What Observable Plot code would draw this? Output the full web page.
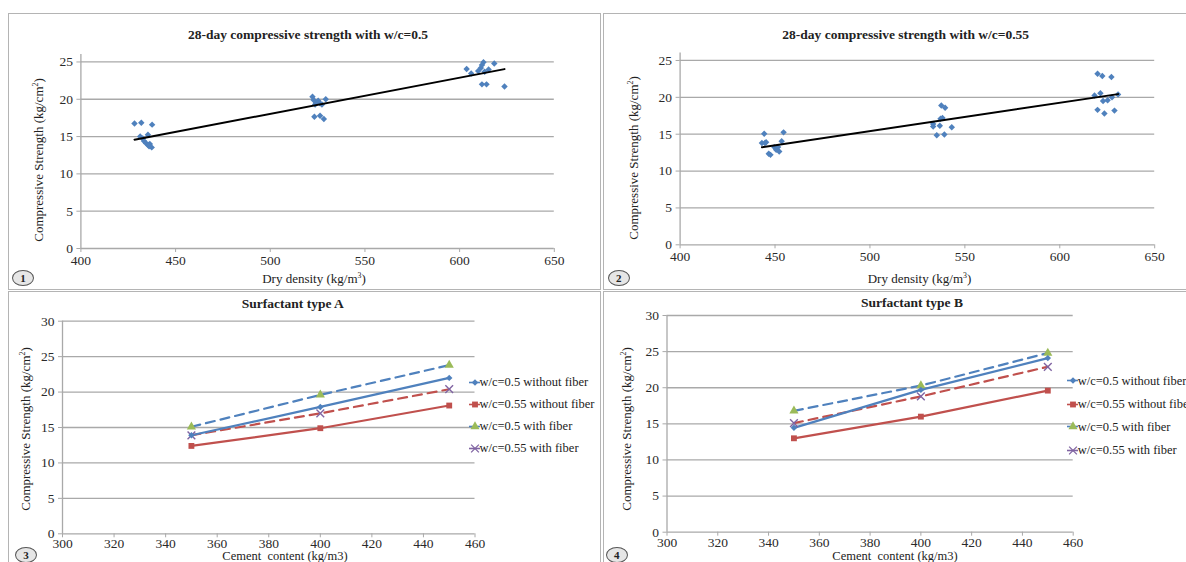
<!DOCTYPE html>
<html><head><meta charset="utf-8">
<script src="https://cdn.jsdelivr.net/npm/d3@7"></script>
<script src="https://cdn.jsdelivr.net/npm/@observablehq/plot@0.6"></script>
<style>
body{margin:0;background:#fff;}
#root{position:relative;width:1186px;height:562px;overflow:hidden;background:#fff;color:#222;}
#root, #root div, #root span, #root svg, #root svg text{font-family:"Liberation Serif","DejaVu Serif",serif !important;}
.panel{position:absolute;border:1px solid #b4b4b4;box-sizing:border-box;}
.abs{position:absolute;white-space:nowrap;line-height:1;}
.title{font-weight:bold;font-size:13.5px;transform:translate(-50%,-50%);}
.ylab{font-size:13px;transform:translate(-50%,-50%) rotate(-90deg);}
.xlab{font-size:13px;transform:translate(-50%,-50%);}
.xlab.small{font-size:12.5px;}
.num{width:20px;height:14px;border:1px solid #555;border-radius:50%;font-weight:bold;font-size:11px;text-align:center;line-height:14px;transform:translate(-50%,-50%);background:#e6e6e6;}
.plotbox{position:absolute;}
.plotbox svg{overflow:visible;}
.leg{position:absolute;font-size:12.5px;white-space:nowrap;transform:translateY(-50%);display:flex;align-items:center;}
sup{font-size:0.6em;line-height:0;vertical-align:0.6em;}
</style>
</head><body>
<div id="root"></div>
<script>
// ---------- data ----------
const densityTicks = [400, 450, 500, 550, 600, 650];
const scatterYTicks = [0, 5, 10, 15, 20, 25];
const cementTicks = [300, 320, 340, 360, 380, 400, 420, 440, 460];
const lineYTicks = [0, 5, 10, 15, 20, 25, 30];

const densityWC05 = [428.3, 431.9, 437.6, 431.3, 435.4, 433.3, 434.4, 435.4, 436.4, 437.4, 436.0, 432.7,
  522.3, 522.9, 524.3, 526.3, 529.3, 527.3, 523.3, 526.3, 528.3, 525.3, 523.7,
  603.7, 606.1, 609.8, 611.2, 612.6, 611.8, 615.3, 618.3, 611.8, 614.2, 623.7, 613.2];
const strengthWC05 = [16.75, 16.85, 16.6, 15.0, 15.25, 14.4, 14.1, 13.9, 14.0, 13.55, 13.7, 14.75,
  20.35, 19.9, 19.55, 19.45, 20.0, 19.3, 17.65, 17.8, 17.35, 19.8, 19.3,
  24.05, 23.45, 23.8, 24.2, 24.95, 24.6, 24.0, 24.8, 22.0, 22.0, 21.7, 23.7];

const densityWC055 = [443.1, 444.3, 445.3, 446.7, 447.6, 449.6, 451.6, 452.2, 450.6, 453.5, 454.5, 444.7,
  533.3, 533.3, 537.2, 538.2, 537.6, 539.6, 536.8, 535.2, 539.2, 543.1,
  619.9, 622.4, 627.2, 618.3, 621.4, 622.8, 625.2, 619.9, 623.5, 628.8, 630.7, 627.5];
const strengthWC055 = [13.8, 15.05, 13.9, 12.35, 12.2, 13.25, 13.25, 12.65, 12.9, 14.05, 15.25, 13.8,
  16.4, 16.05, 17.1, 17.2, 18.9, 18.6, 16.15, 14.85, 14.95, 15.95,
  23.2, 22.9, 22.75, 20.25, 20.55, 19.5, 19.6, 18.3, 17.8, 18.2, 20.4, 20.0];

const cement = [350, 400, 450];
const seriesNames = ["w/c=0.5 without fiber", "w/c=0.55 without fiber", "w/c=0.5 with fiber", "w/c=0.55 with fiber"];
const typeA = [
  [13.9, 17.9, 22.0],
  [12.4, 14.9, 18.1],
  [15.1, 19.6, 23.8],
  [13.9, 17.0, 20.4]
];
const typeB = [
  [14.45, 19.7, 24.1],
  [13.0, 16.0, 19.6],
  [16.8, 20.3, 24.8],
  [15.1, 18.8, 22.9]
];

// ---------- styles ----------
const blue = "#4f81bd", red = "#c0504d", green = "#9bbb59", purple = "#8064a2";
const gridColor = "#a9a9a9", textColor = "#2a2a2a";
const seriesStyle = [
  {line: blue, dash: null, symbol: "diamond2", mark: blue, r: 2.9, stroked: false},
  {line: red, dash: null, symbol: "square", mark: red, r: 3.3, stroked: false},
  {line: blue, dash: "9,6", symbol: "triangle", mark: green, r: 3.4, stroked: false},
  {line: red, dash: "9,6", symbol: "times", mark: purple, r: 3.6, stroked: true}
];
const plotStyle = {fontFamily: "Liberation Serif, DejaVu Serif, serif", fontSize: "13.5px", background: "transparent", color: textColor};

const root = document.getElementById("root");
function el(cls, x, y, html, extra) {
  const d = document.createElement("div");
  d.className = cls;
  d.style.left = x + "px"; d.style.top = y + "px";
  if (extra) Object.assign(d.style, extra);
  d.innerHTML = html;
  root.appendChild(d);
  return d;
}
function box(x, y, w, h) { el("panel", x, y, "", {width: w + "px", height: h + "px"}); }
function place(svg, x, y) {
  const d = el("plotbox", x, y, "");
  d.appendChild(svg);
}

function scatterChart(xs, ys, m) {
  const data = xs.map((x, i) => ({x, y: ys[i]}));
  return Plot.plot({
    width: m.w, height: m.h, marginLeft: m.l, marginRight: m.r, marginTop: m.t, marginBottom: m.b,
    x: {domain: [densityTicks[0], densityTicks[densityTicks.length - 1]]},
    y: {domain: [0, 26]},
    style: plotStyle,
    marks: [
      Plot.ruleY(scatterYTicks, {stroke: gridColor, strokeWidth: 1.3}),
      Plot.ruleX([densityTicks[0]], {stroke: gridColor, strokeWidth: 1.3}),
      Plot.axisY({ticks: scatterYTicks, tickSize: 4, tickPadding: 4, stroke: gridColor, fill: textColor, label: null}),
      Plot.axisX({ticks: densityTicks, tickSize: 4, tickPadding: 3, stroke: gridColor, fill: textColor, label: null}),
      Plot.dot(data, {x: "x", y: "y", symbol: "diamond2", r: 2.9, fill: blue}),
      Plot.linearRegressionY(data, {x: "x", y: "y", stroke: "#000", strokeWidth: 2, ci: 0})
    ]
  });
}

function lineChart(values, m) {
  const marks = [
    Plot.ruleY(lineYTicks, {stroke: gridColor, strokeWidth: 1.3}),
    Plot.ruleX([cementTicks[0]], {stroke: gridColor, strokeWidth: 1.3}),
    Plot.axisY({ticks: lineYTicks, tickSize: 4, tickPadding: 4, stroke: gridColor, fill: textColor, label: null}),
    Plot.axisX({ticks: cementTicks, tickSize: 4, tickPadding: 1, stroke: gridColor, fill: textColor, label: null})
  ];
  const order = [2, 3, 0, 1];
  order.forEach(k => {
    const s = seriesStyle[k];
    const rows = cement.map((c, i) => ({x: c, y: values[k][i]}));
    marks.push(Plot.line(rows, {x: "x", y: "y", stroke: s.line, strokeWidth: 2.2, strokeDasharray: s.dash || undefined}));
  });
  order.forEach(k => {
    const s = seriesStyle[k];
    const rows = cement.map((c, i) => ({x: c, y: values[k][i]}));
    marks.push(s.stroked
      ? Plot.dot(rows, {x: "x", y: "y", symbol: s.symbol, r: s.r, stroke: s.mark, strokeWidth: 1.4, fill: "none"})
      : Plot.dot(rows, {x: "x", y: "y", symbol: s.symbol, r: s.r, fill: s.mark}));
  });
  return Plot.plot({
    width: m.w, height: m.h, marginLeft: m.l, marginRight: m.r, marginTop: m.t, marginBottom: m.b,
    x: {domain: [cementTicks[0], cementTicks[cementTicks.length - 1]]},
    y: {domain: [0, 30]},
    style: plotStyle,
    marks
  });
}

const symbolMap = {diamond2: d3.symbolDiamond2, square: d3.symbolSquare, triangle: d3.symbolTriangle, times: d3.symbolTimes};
function legend(xc, ys) {
  seriesNames.forEach((name, i) => {
    const s = seriesStyle[i];
    const path = d3.symbol(symbolMap[s.symbol], s.r * s.r * Math.PI)();
    const sym = s.stroked
      ? `<path d="${path}" transform="translate(6,5)" fill="none" stroke="${s.mark}" stroke-width="1.3"/>`
      : `<path d="${path}" transform="translate(6,5)" fill="${s.mark}"/>`;
    const svg = `<svg width="11" height="10" style="display:block;overflow:visible"><line x1="0" x2="11" y1="5" y2="5" stroke="${s.stroked ? s.mark : s.line}" stroke-width="1.6"/>${sym}</svg>`;
    el("leg", xc - 6, ys[i], svg + `<span>${name}</span>`);
  });
}

// ---------- panels ----------
box(8, 13, 593, 277);
box(603, 13, 590, 277);
box(8, 291, 593, 280);
box(603, 291, 590, 280);

place(scatterChart(densityWC05, strengthWC05, {w: 592, h: 276, l: 72.4, r: 46.2, t: 41, b: 41}), 8, 13);
place(scatterChart(densityWC055, strengthWC055, {w: 583, h: 276, l: 76.6, r: 31.8, t: 39.6, b: 44.7}), 603, 13);
place(lineChart(typeA, {w: 592, h: 271, l: 54, r: 125.5, t: 29.7, b: 28.7}), 8, 291);
place(lineChart(typeB, {w: 583, h: 271, l: 63.5, r: 113.3, t: 24, b: 30.3}), 603, 291);

el("abs title", 308, 35, "28-day compressive strength with w/c=0.5");
el("abs title", 905.7, 35, "28-day compressive strength with w/c=0.55");
el("abs title", 292.8, 304, "Surfactant type A");
el("abs title", 912, 302.7, "Surfactant type B");

const ylab = "Compressive Strength (kg/cm<sup>2</sup>)";
el("abs ylab", 38, 160, ylab);
el("abs ylab", 633, 158, ylab);
el("abs ylab", 25, 429, ylab);
el("abs ylab", 626, 429, ylab);

el("abs xlab", 314, 278, "Dry density (kg/m<sup>3</sup>)");
el("abs xlab", 919.5, 278, "Dry density (kg/m<sup>3</sup>)");
el("abs xlab small", 285, 556, "Cement&nbsp; content (kg/m3)");
el("abs xlab small", 895, 556, "Cement&nbsp; content (kg/m3)");

el("abs num", 23, 278, "1");
el("abs num", 618.7, 278, "2");
el("abs num", 26, 554.5, "3");
el("abs num", 616.8, 555, "4");

legend(474.5, [382.3, 404.3, 426.3, 448.3]);
legend(1072.7, [380.7, 404, 426.7, 450.3]);
</script>
</body></html>
